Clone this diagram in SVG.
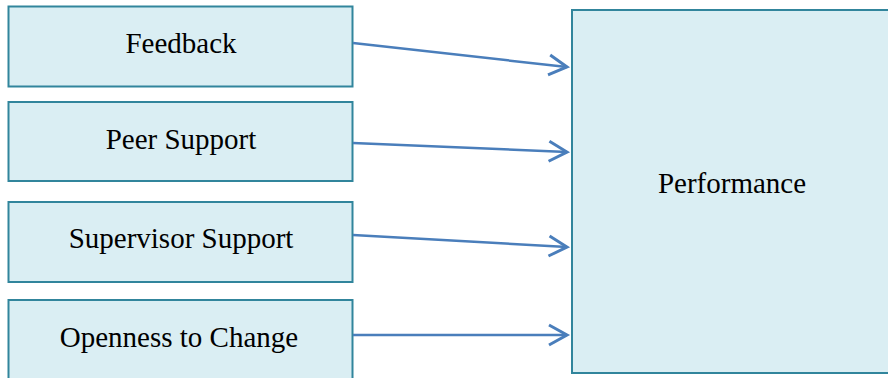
<svg xmlns="http://www.w3.org/2000/svg" width="888" height="378" viewBox="0 0 888 378">
<style>
.box{fill:#DAEEF3;stroke:#31859C;stroke-width:2}
.lbl{font-family:"Liberation Serif","Times New Roman",serif;font-size:29px;fill:#000;text-anchor:middle}
.conn{fill:none;stroke:#4A7EBB;stroke-width:2.5}
</style>
<defs>
<marker id="arr" markerUnits="userSpaceOnUse" markerWidth="30" markerHeight="30" refX="0" refY="0" viewBox="-22 -15 30 30" orient="auto" overflow="visible">
<path d="M-18,-10 L0,0 L-18,10" fill="none" stroke="#4A7EBB" stroke-width="3"/>
</marker>
</defs>
<rect width="888" height="378" fill="#fff"/>
<g id="feedback"><rect class="box" x="8.5" y="6.5" width="344" height="80"/><text class="lbl" x="181" y="53">Feedback</text></g>
<g id="peer-support"><rect class="box" x="8.5" y="102" width="344" height="79"/><text class="lbl" x="181" y="149">Peer Support</text></g>
<g id="supervisor-support"><rect class="box" x="8.5" y="202" width="344" height="80"/><text class="lbl" x="181" y="248">Supervisor Support</text></g>
<g id="openness-to-change"><rect class="box" x="8.5" y="300" width="344" height="100"/><text class="lbl" x="179" y="347">Openness to Change</text></g>
<g id="performance"><rect class="box" x="572" y="10" width="400" height="363"/><text class="lbl" x="732" y="193">Performance</text></g>
<g id="connectors">
<path class="conn" d="M353,43 L567,67" marker-end="url(#arr)"/>
<path class="conn" d="M353,143 L567,152" marker-end="url(#arr)"/>
<path class="conn" d="M353,235 L567,247" marker-end="url(#arr)"/>
<path class="conn" d="M353,335 L567,335" marker-end="url(#arr)"/>
</g>
</svg>
